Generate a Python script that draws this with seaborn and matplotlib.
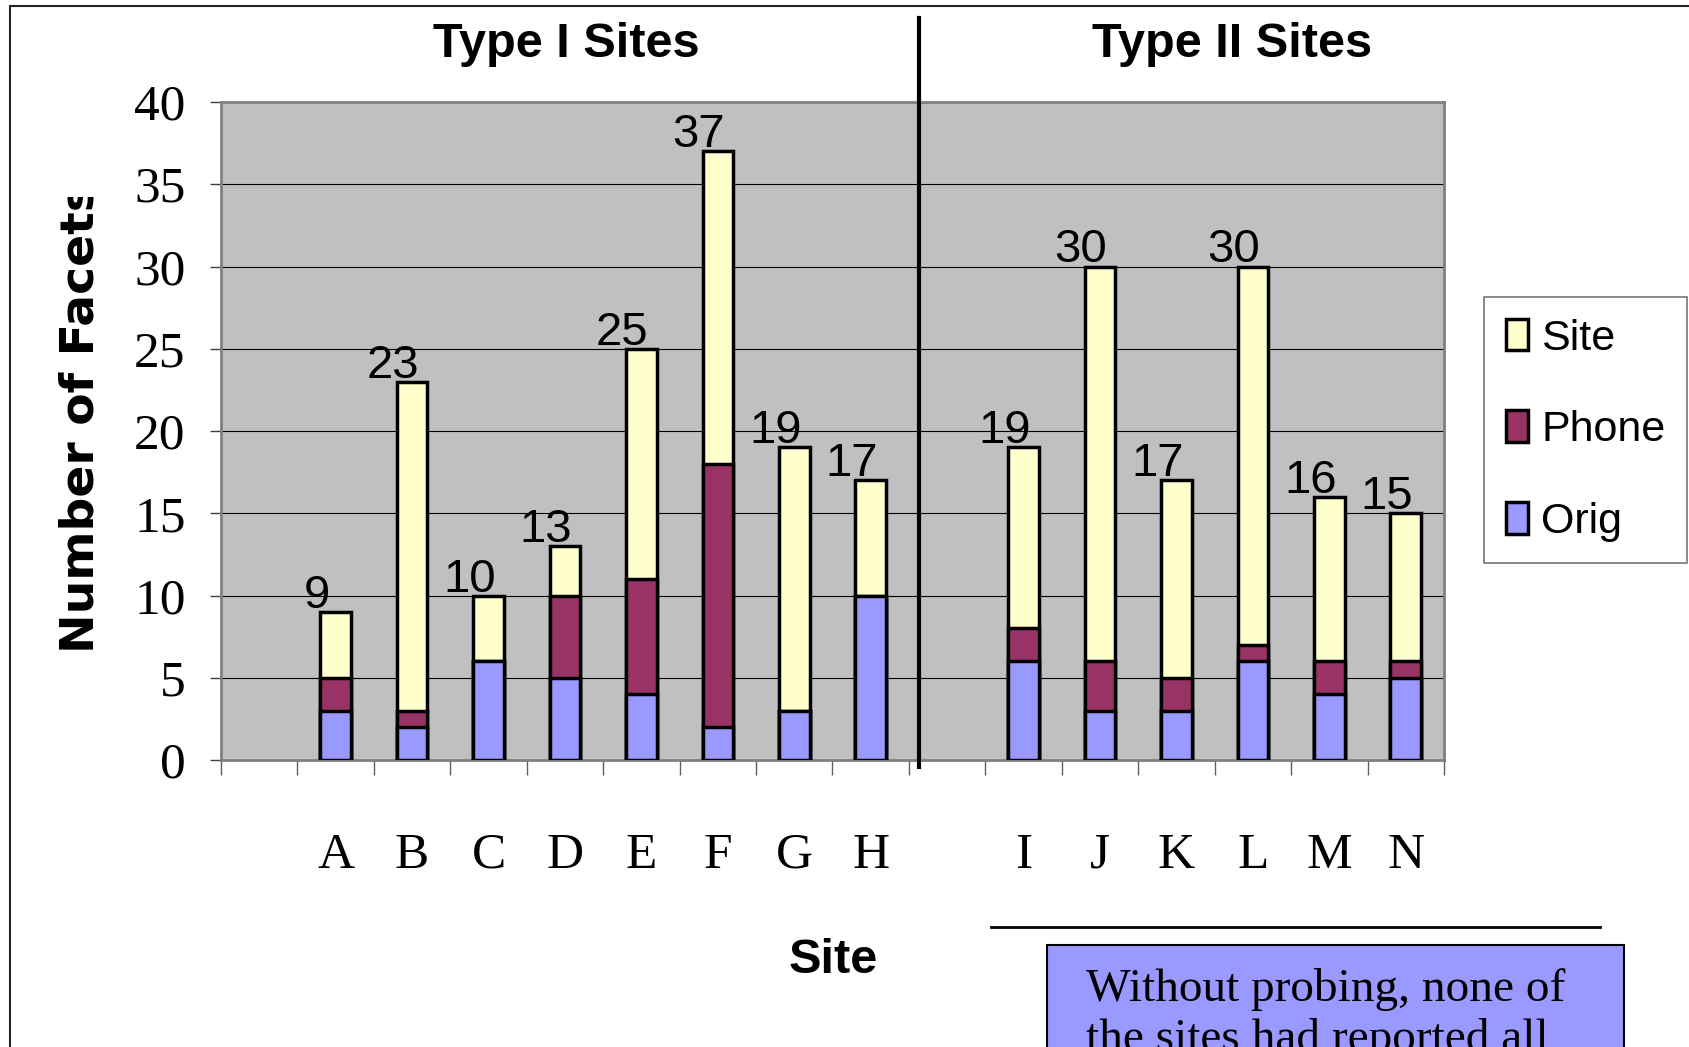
import matplotlib
matplotlib.use('Agg')
import matplotlib.pyplot as plt
import seaborn as sns
import pandas as pd
from matplotlib import font_manager
from matplotlib.patches import Rectangle, Patch
from matplotlib.lines import Line2D
from matplotlib.transforms import Bbox

# data
sites = ['A', 'B', 'C', 'D', 'E', 'F', 'G', 'H', 'I', 'J', 'K', 'L', 'M', 'N']
orig = [3, 2, 6, 5, 4, 2, 3, 10, 6, 3, 3, 6, 4, 5]
phone = [2, 1, 0, 5, 7, 16, 0, 0, 2, 3, 2, 1, 2, 1]
site = [4, 20, 4, 3, 14, 19, 16, 7, 11, 24, 12, 23, 10, 9]
slots = ['gap1'] + sites[:8] + ['gap2'] + sites[8:]
slot_labels = ['' if s.startswith('gap') else s for s in slots]
group_titles = ['Type I Sites', 'Type II Sites']
note = 'Without probing, none of\nthe sites had reported all'

SITE_C = '#FFFFCC'
PHONE_C = '#993366'
ORIG_C = '#9999FF'

W, H = 1690, 1047

names = {f.name for f in font_manager.fontManager.ttflist}
NARROW = 'Liberation Sans Narrow' if 'Liberation Sans Narrow' in names else 'Liberation Sans'

df = pd.DataFrame({'Site': sites, 'Orig': orig, 'Phone': phone, 'SiteF': site})
df['OrigPhone'] = df['Orig'] + df['Phone']
df['Total'] = df['OrigPhone'] + df['SiteF']

fig = plt.figure(figsize=(W / 100, H / 100), dpi=100)
ax = fig.add_axes([221 / W, 1 - 760 / H, (1444 - 221) / W, (760 - 102) / H])
ax.set_facecolor('#C0C0C0')

# stacked look: draw cumulative totals from the top down
for col, color in [('Total', SITE_C), ('OrigPhone', PHONE_C), ('Orig', ORIG_C)]:
    sns.barplot(data=df, x='Site', y=col, order=slots, color=color, saturation=1,
                width=0.4, edgecolor='black', linewidth=2.5, errorbar=None,
                ax=ax, zorder=3)

for i, s in enumerate(slots):
    if s.startswith('gap'):
        continue
    tot = int(df.loc[df['Site'] == s, 'Total'].iloc[0])
    ax.annotate(str(tot), xy=(i, tot), xytext=(-19, 4), textcoords='offset pixels',
                ha='center', va='baseline', fontsize=34, family='Liberation Sans',
                zorder=5)

ax.set_xlim(-0.5, 15.5)
ax.set_ylim(0, 40)
ax.set_xlabel('')
ax.set_ylabel('')
ax.set_axisbelow(True)
ax.yaxis.grid(True, color='black', linewidth=0.8)
ax.xaxis.grid(False)

ax.set_xticks([i - 0.5 for i in range(17)], labels=[''] * 17)
ax.set_xticks(range(len(slots)), labels=slot_labels, minor=True)
ax.tick_params(axis='x', which='major', length=11, width=1, color='#606060')
ax.tick_params(axis='x', which='minor', length=0, pad=52, labelsize=37)
ax.set_yticks(range(0, 41, 5))
ax.tick_params(axis='y', length=8, width=1, color='#404040', pad=17.5, labelsize=37)
for lab in ax.get_xticklabels(minor=True) + ax.get_yticklabels():
    lab.set_fontfamily('Liberation Serif')

for sp in ax.spines.values():
    sp.set_color('#808080')
    sp.set_linewidth(2)

# y label, clipped at the top like the original
ylab = fig.text(81 / W, 1 - 418 / H, 'Number of Facets', rotation=90, ha='center',
                va='center', fontsize=34, fontweight='bold', family='DejaVu Sans')
ylab.set_clip_on(True)
ylab.set_clip_box(Bbox.from_extents(0, 0, W, H - 197))

fig.text(833 / W, 1 - 973 / H, 'Site', ha='center', va='baseline',
         fontsize=40 if NARROW != 'Liberation Sans' else 35, fontweight='bold', family=NARROW)

for x, t in zip([566, 1232], group_titles):
    fig.text(x / W, 1 - 57 / H, t, ha='center', va='baseline', fontsize=35,
             fontweight='bold', family='Liberation Sans')

fig.add_artist(Line2D([919 / W, 919 / W], [1 - 18 / H, 1 - 767 / H], color='black',
                      linewidth=3, transform=fig.transFigure))

handles = [Patch(facecolor=SITE_C, edgecolor='black', linewidth=2.5, label='Site'),
           Patch(facecolor=PHONE_C, edgecolor='black', linewidth=2.5, label='Phone'),
           Patch(facecolor=ORIG_C, edgecolor='black', linewidth=2.5, label='Orig')]
leg = fig.legend(handles=handles, loc='upper left', bbox_to_anchor=(1484 / W, 1 - 297 / H),
                 frameon=True, fancybox=False, prop={'family': 'Liberation Sans', 'size': 31},
                 handlelength=0.53, handleheight=0.75, handletextpad=0.3,
                 labelspacing=1.2, borderpad=0.5, borderaxespad=0)
leg.get_frame().set_edgecolor('#555555')
leg.get_frame().set_linewidth(1.2)

# outer border and the note box
fig.add_artist(Rectangle((10 / W, -0.1), 1.2, 1.1 - 6 / H, transform=fig.transFigure,
                         fill=False, edgecolor='#222222', linewidth=1.5))
fig.add_artist(Line2D([991 / W, 1600 / W], [1 - 927 / H] * 2, color='black', linewidth=2,
                      transform=fig.transFigure))
fig.add_artist(Rectangle((1047 / W, -0.1), (1624 - 1047) / W, 0.1 + 1 - 945 / H,
                         transform=fig.transFigure, facecolor=ORIG_C, edgecolor='black',
                         linewidth=1.5))
fig.text(1086 / W, 1 - 968 / H, note, ha='left', va='top', fontsize=34,
         family='Liberation Serif', linespacing=1.2)

fig.savefig('out.png', dpi=100)
